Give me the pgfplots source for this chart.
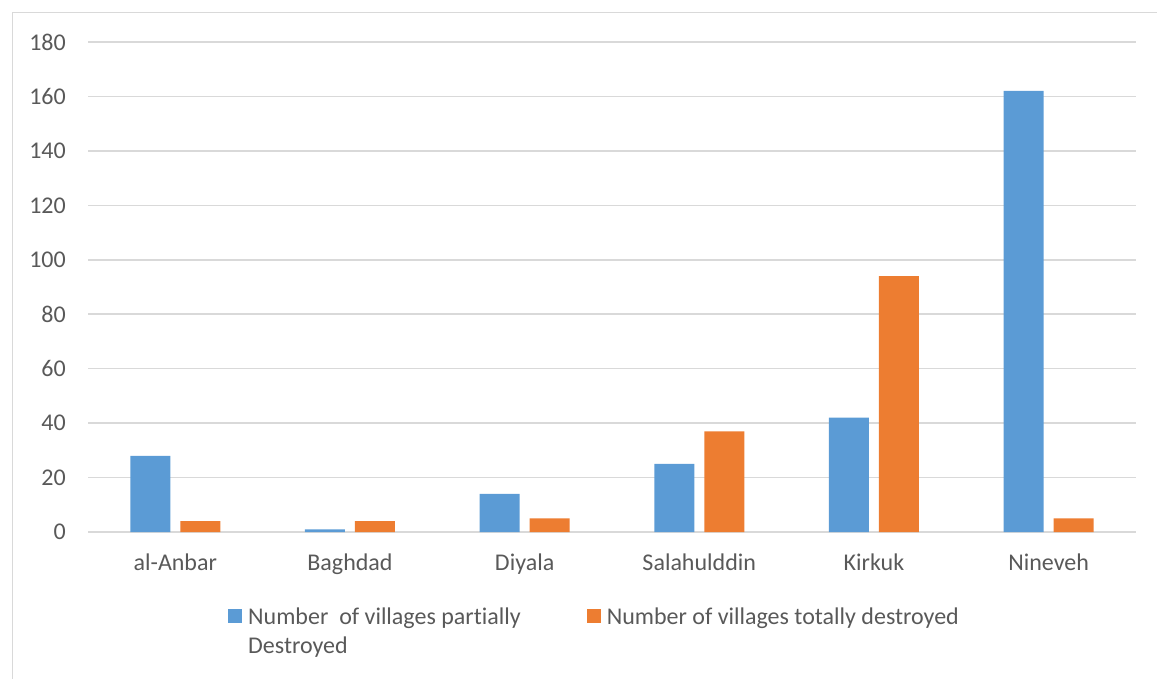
\documentclass[border=0pt]{standalone}
\usepackage{fontspec}
\setmainfont{Carlito}[Ligatures=NoCommon]
\usepackage{pgfplots}
\pgfplotsset{compat=1.18}
\definecolor{cblue}{HTML}{5B9BD5}
\definecolor{corange}{HTML}{ED7D31}
\definecolor{ctext}{HTML}{595959}
\definecolor{cgrid}{HTML}{D9D9D9}
\begin{document}
\begin{tikzpicture}
\useasboundingbox (0pt,0pt) rectangle (1157pt,678pt);
\draw[cgrid, line width=1.5pt] (12.5pt,-5pt) -- (12.5pt,665.5pt) -- (1170pt,665.5pt);
\begin{axis}[
  at={(88pt,146pt)}, anchor=south west,
  width=1048pt, height=490pt, scale only axis,
  ybar=10pt, bar width=40pt,
  xmin=-0.5, xmax=5.5, ymin=0, ymax=180,
  xtick=data,
  xticklabels={al-Anbar,Baghdad,Diyala,Salahulddin,Kirkuk,Nineveh},
  ytick={0,20,...,180},
  axis line style={draw=none},
  major tick length=0pt,
  ymajorgrids, grid style={cgrid, line width=1.6pt},
  tick label style={font=\fontsize{24}{29}\selectfont, text=ctext},
  /pgf/number format/assume math mode=true,
  yticklabel style={inner sep=0pt, anchor=east, xshift=-22pt},
  xticklabel style={inner sep=0pt, anchor=base, yshift=-38pt},
  legend columns=2,
  legend cell align=left,
  legend image code/.code={\fill[#1,draw=none] (0pt,-8pt) rectangle (14pt,6pt);},
  legend style={at={(0.1336,-0.146)}, anchor=north west, draw=none, fill=none,
    inner sep=0pt, font=\fontsize{24}{29}\selectfont, text=ctext,
    nodes={inner sep=0pt},
    /tikz/every odd column/.append style={column sep=6pt},
    /tikz/every even column/.append style={column sep=66pt}},
]
\addplot[fill=cblue, draw=none] coordinates {(0,28) (1,1) (2,14) (3,25) (4,42) (5,162)};
\addplot[fill=corange, draw=none] coordinates {(0,4) (1,4) (2,5) (3,37) (4,94) (5,5)};
\legend{{\begin{tabular}[t]{@{}l@{}}Number\ \ of villages partially\\Destroyed\end{tabular}},
        {\begin{tabular}[t]{@{}l@{}}Number of villages totally destroyed\end{tabular}}}
\end{axis}
\end{tikzpicture}
\end{document}
